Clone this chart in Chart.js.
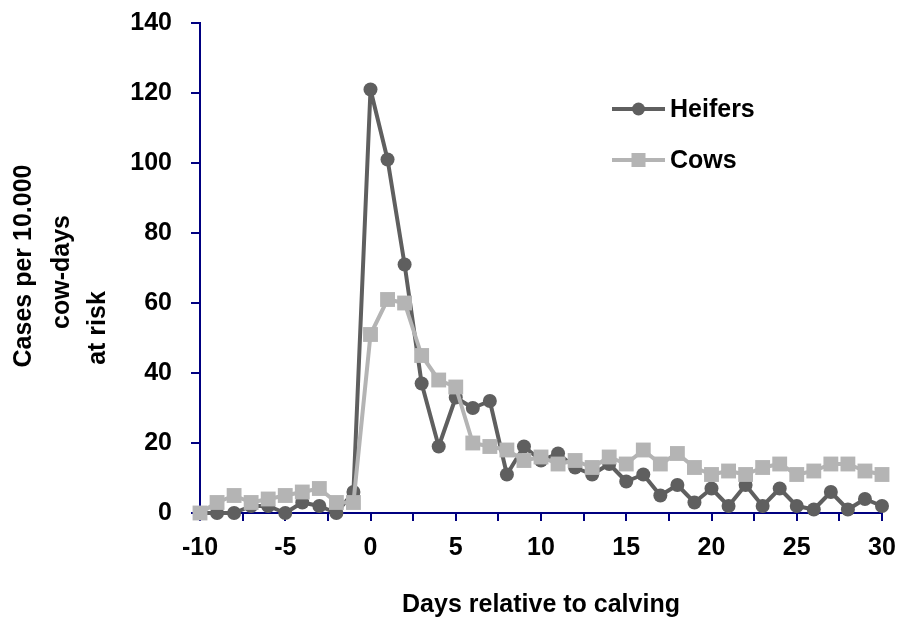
<!DOCTYPE html>
<html>
<head>
<meta charset="utf-8">
<script src="https://cdn.jsdelivr.net/npm/chart.js@4"></script>
<style>
  html, body { margin: 0; padding: 0; background: #ffffff; }
  #wrap { position: relative; width: 900px; height: 620px; }
</style>
</head>
<body>
<div id="wrap"><canvas id="c" width="900" height="620"></canvas></div>
<script>
// ---- data ----
const days = [-10, -9, -8, -7, -6, -5, -4, -3, -2, -1, 0, 1, 2, 3, 4, 5, 6, 7, 8, 9, 10,
              11, 12, 13, 14, 15, 16, 17, 18, 19, 20, 21, 22, 23, 24, 25, 26, 27, 28, 29, 30];
const heifers = [0, 0, 0, 2, 2, 0, 3, 2, 0, 6, 121, 101, 71, 37, 19, 33, 30, 32, 11, 19, 15,
                 17, 13, 11, 14, 9, 11, 5, 8, 3, 7, 2, 8, 2, 7, 2, 1, 6, 1, 4, 2];
const cows = [0, 3, 5, 3, 4, 5, 6, 7, 3, 3, 51, 61, 60, 45, 38, 36, 20, 19, 18, 15, 16,
              14, 15, 13, 16, 14, 18, 14, 17, 13, 11, 12, 11, 13, 14, 11, 12, 14, 14, 12, 11];
const seriesNames = ['Heifers', 'Cows'];
const xTitle = 'Days relative to calving';
const yTitleLines = ['Cases per 10.000', 'cow-days', 'at risk'];
const xMin = -10, xMax = 30, xStep = 2.5, xLabelStep = 5;
const yMin = 0, yMax = 140, yStep = 20;

const FONT = "'Liberation Sans', Arial, Helvetica, sans-serif";
const NAVY = '#000080';
const DARK = '#5f5f5f';
const LIGHT = '#b4b4b4';

Chart.defaults.font.family = FONT;
Chart.defaults.font.weight = 'bold';
Chart.defaults.font.size = 25;
Chart.defaults.color = '#000000';

const toPoints = (vals) => days.map((d, i) => ({ x: d, y: vals[i] }));

// custom legend (line + marker + label)
const legendPlugin = {
  id: 'lineLegend',
  afterDatasetsDraw(chart) {
    const ctx = chart.ctx;
    const items = [
      { ds: chart.data.datasets[0], y: 109 },
      { ds: chart.data.datasets[1], y: 160 }
    ];
    ctx.save();
    items.forEach(it => {
      const x0 = 612, x1 = 665, xm = (x0 + x1) / 2;
      ctx.strokeStyle = it.ds.borderColor;
      ctx.lineWidth = it.ds.borderWidth;
      ctx.beginPath(); ctx.moveTo(x0, it.y); ctx.lineTo(x1, it.y); ctx.stroke();
      ctx.fillStyle = it.ds.pointBackgroundColor;
      if (it.ds.pointStyle === 'rect') {
        ctx.fillRect(xm - 7, it.y - 7, 14, 14);
      } else {
        ctx.beginPath(); ctx.arc(xm, it.y, 6.5, 0, Math.PI * 2); ctx.fill();
      }
      ctx.fillStyle = '#000';
      ctx.font = 'bold 25px ' + FONT;
      ctx.textAlign = 'left';
      ctx.textBaseline = 'middle';
      ctx.fillText(it.ds.label, 670, it.y + 1);
    });
    ctx.restore();
  }
};

// y axis title in three lines
const yTitlePlugin = {
  id: 'yTitle',
  afterDraw(chart) {
    const ctx = chart.ctx;
    const pos = [{ x: 24, y: 266 }, { x: 62, y: 272 }, { x: 98, y: 328 }];
    ctx.save();
    ctx.fillStyle = '#000';
    ctx.font = 'bold 25px ' + FONT;
    ctx.textAlign = 'center';
    ctx.textBaseline = 'middle';
    yTitleLines.forEach((t, i) => {
      ctx.save();
      ctx.translate(pos[i].x, pos[i].y);
      ctx.rotate(-Math.PI / 2);
      ctx.fillText(t, 0, 0);
      ctx.restore();
    });
    ctx.restore();
  }
};

new Chart(document.getElementById('c'), {
  type: 'line',
  data: {
    datasets: [
      {
        label: seriesNames[0],
        data: toPoints(heifers),
        borderColor: DARK,
        backgroundColor: DARK,
        pointBackgroundColor: DARK,
        pointBorderColor: DARK,
        borderWidth: 4,
        borderJoinStyle: 'round',
        borderCapStyle: 'round',
        pointStyle: 'circle',
        pointRadius: 7,
        pointBorderWidth: 0,
        tension: 0,
        clip: false,
        order: 1
      },
      {
        label: seriesNames[1],
        data: toPoints(cows),
        borderColor: LIGHT,
        backgroundColor: LIGHT,
        pointBackgroundColor: LIGHT,
        pointBorderColor: LIGHT,
        borderWidth: 4,
        borderJoinStyle: 'round',
        borderCapStyle: 'round',
        pointStyle: 'rect',
        pointRadius: 10.5,
        pointBorderWidth: 0,
        tension: 0,
        clip: false,
        order: 0
      }
    ]
  },
  options: {
    responsive: false,
    animation: false,
    events: [],
    layout: { autoPadding: false, padding: { left: 0, right: 18, top: 23, bottom: 0 } },
    plugins: {
      legend: { display: false },
      tooltip: { enabled: false },
      title: { display: false }
    },
    scales: {
      x: {
        type: 'linear',
        min: xMin, max: xMax,
        afterFit: (s) => { s.height = 107; s.paddingLeft = 0; s.paddingRight = 0; },
        afterBuildTicks: (s) => {
          const t = [];
          for (let v = xMin; v <= xMax + 1e-9; v += xStep) t.push({ value: v });
          s.ticks = t;
        },
        ticks: {
          autoSkip: false,
          maxRotation: 0,
          padding: 12,
          color: '#000',
          font: { size: 25, weight: 'bold' },
          callback: (v) => (Math.abs(v % xLabelStep) < 1e-9 ? String(v) : '')
        },
        grid: {
          display: true,
          drawOnChartArea: false,
          drawTicks: true,
          tickLength: 8,
          color: NAVY,
          lineWidth: 2
        },
        border: { display: true, color: NAVY, width: 2 },
        title: {
          display: true,
          text: xTitle,
          color: '#000',
          font: { size: 25, weight: 'bold' },
          padding: { top: 0, bottom: 0 }
        }
      },
      y: {
        type: 'linear',
        min: yMin, max: yMax,
        afterFit: (s) => { s.width = 200; s.paddingTop = 0; s.paddingBottom = 0; },
        ticks: {
          stepSize: yStep,
          padding: 19,
          color: '#000',
          font: { size: 25, weight: 'bold' }
        },
        grid: {
          display: true,
          drawOnChartArea: false,
          drawTicks: true,
          tickLength: 9,
          color: NAVY,
          lineWidth: 2
        },
        border: { display: true, color: NAVY, width: 2 },
        title: { display: false }
      }
    }
  },
  plugins: [legendPlugin, yTitlePlugin]
});
</script>
</body>
</html>
